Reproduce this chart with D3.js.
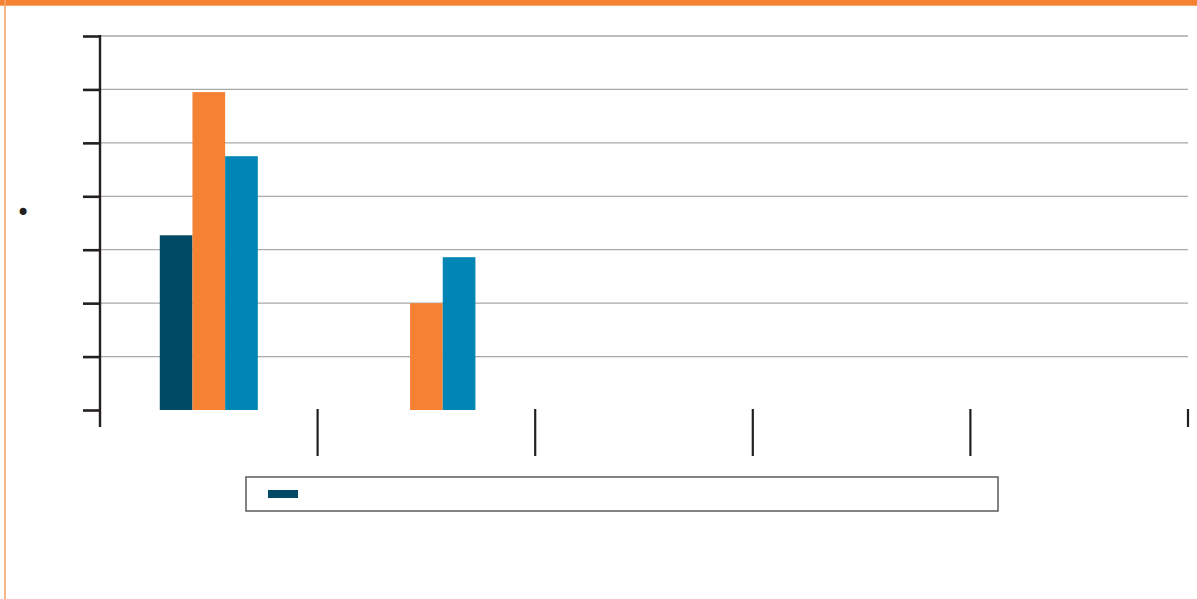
<!DOCTYPE html>
<html>
<head>
<meta charset="utf-8">
<script src="https://cdn.jsdelivr.net/npm/d3@7"></script>
<style>
  html, body { margin: 0; padding: 0; background: #fff; }
  svg { display: block; }
</style>
</head>
<body>
<div class="chart"></div>
<script>
'use strict';

// chart carries no visible labels; names are kept only as keys
var categories = ['cat1', 'cat2', 'cat3', 'cat4', 'cat5'];
var seriesNames = ['series1', 'series2', 'series3'];
var series1 = [3.27, 0, 0, 0, 0];
var series2 = [5.95, 2.0, 0, 0, 0];
var series3 = [4.75, 2.86, 0, 0, 0];
var yTicks = [0, 1, 2, 3, 4, 5, 6, 7];
var colors = ['#004a66', '#f58233', '#0085b5'];

(function () {
  var width = 1197,
      height = 599;

  var svg = d3.select('.chart')
    .append('svg')
      .attr('width', width)
      .attr('height', height);

  // page frame: orange band on top, thin orange rule on the left
  svg.append('rect')
      .attr('x', 0).attr('y', 0)
      .attr('width', width).attr('height', 5.7)
      .attr('fill', '#f58233');
  svg.append('line')
      .attr('x1', 5).attr('x2', 5)
      .attr('y1', 0).attr('y2', height)
      .attr('stroke', '#f5a468')
      .attr('stroke-width', 1.6);

  var x = d3.scaleBand()
      .domain(categories)
      .range([100, 1188]);
  var xs = d3.scaleBand()
      .domain(seriesNames)
      .range([0, x.bandwidth()])
      .paddingOuter(1.83);
  var y = d3.scaleLinear()
      .domain([0, 7])
      .range([410, 36]);

  // grid
  svg.append('g')
    .selectAll('line')
      .data(yTicks.filter(function (d) { return d > 0; }))
    .enter().append('line')
      .attr('x1', x.range()[0])
      .attr('x2', x.range()[1])
      .attr('y1', function (d) { return y(d); })
      .attr('y2', function (d) { return y(d); })
      .attr('stroke', '#a9a9a9')
      .attr('stroke-width', 1.3);

  // bars
  var data = seriesNames.map(function (s, i) {
    return { name: s, values: [series1, series2, series3][i] };
  });
  svg.append('g')
    .selectAll('g')
      .data(data)
    .enter().append('g')
      .attr('fill', function (d, i) { return colors[i]; })
    .selectAll('rect')
      .data(function (d) {
        return d.values.map(function (v, j) { return { s: d.name, c: categories[j], v: v }; });
      })
    .enter().append('rect')
      .attr('x', function (d) { return x(d.c) + xs(d.s); })
      .attr('width', xs.bandwidth())
      .attr('y', function (d) { return y(d.v); })
      .attr('height', function (d) { return y(0) - y(d.v); });

  // y axis
  var yAxis = d3.axisLeft(y)
      .tickValues(yTicks)
      .tickSize(17)
      .tickFormat(function () { return ''; });
  var ya = svg.append('g')
      .attr('transform', 'translate(100,0)')
      .call(yAxis);
  ya.select('.domain').remove();
  ya.selectAll('.tick line')
      .attr('stroke', '#231f20')
      .attr('stroke-width', 2.6);
  svg.append('line')
      .attr('x1', 100).attr('x2', 100)
      .attr('y1', 35).attr('y2', 427)
      .attr('stroke', '#231f20')
      .attr('stroke-width', 2.4);

  // x axis: category boundary ticks
  var bounds = categories.map(function (c) { return x(c); }).concat([x.range()[1]]);
  svg.append('g')
    .selectAll('line')
      .data(bounds.slice(1))
    .enter().append('line')
      .attr('x1', function (d) { return d; })
      .attr('x2', function (d) { return d; })
      .attr('y1', 409)
      .attr('y2', function (d, i) { return i === bounds.length - 2 ? 427 : 456; })
      .attr('stroke', '#231f20')
      .attr('stroke-width', 2.2);

  // stray bullet where the axis title would sit
  svg.append('text')
      .attr('x', 23)
      .attr('y', 213)
      .attr('text-anchor', 'middle')
      .attr('dominant-baseline', 'central')
      .style('font-family', 'DejaVu Sans')
      .style('font-size', '24px')
      .attr('fill', '#231f20')
      .text('\u2022');

  // legend
  var legend = svg.append('g');
  legend.append('rect')
      .attr('x', 246).attr('y', 477)
      .attr('width', 752).attr('height', 34)
      .attr('fill', 'none')
      .attr('stroke', '#5a5a5a')
      .attr('stroke-width', 1.5);
  legend.selectAll('.swatch')
      .data(seriesNames.slice(0, 1))
    .enter().append('rect')
      .attr('class', 'swatch')
      .attr('x', 268).attr('y', 490)
      .attr('width', 30).attr('height', 8)
      .attr('fill', function (d, i) { return colors[i]; });
})();
</script>
</body>
</html>
